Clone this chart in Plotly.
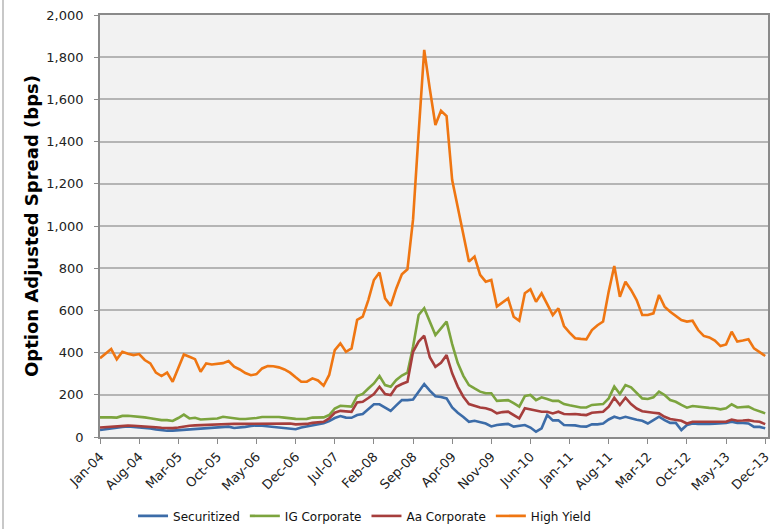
import pandas as pd
import plotly.graph_objects as go

months = pd.date_range("2004-01-01", "2013-12-01", freq="MS").strftime("%b-%y").tolist()
tick_labels = ["Jan-04", "Aug-04", "Mar-05", "Oct-05", "May-06", "Dec-06", "Jul-07", "Feb-08",
               "Sep-08", "Apr-09", "Nov-09", "Jun-10", "Jan-11", "Aug-11", "Mar-12", "Oct-12",
               "May-13", "Dec-13"]

securitized = [33, 37, 42, 45, 48, 50, 48, 45, 42, 40, 36, 32, 30, 30, 32, 36, 38, 37, 40, 43,
               44, 48, 50, 49, 43, 44, 48, 52, 55, 53, 50, 49, 47, 44, 38, 37, 45, 50, 55, 60,
               65, 75, 90, 99, 92, 91, 104, 109, 132, 155, 155, 141, 124, 150, 175, 175, 178, 215, 251, 220,
               193, 190, 183, 140, 115, 95, 72, 77, 72, 64, 50, 57, 60, 62, 49, 53, 57, 45, 25, 41,
               104, 79, 79, 57, 57, 55, 50, 49, 60, 60, 64, 83, 96, 88, 96, 88, 82, 77, 64, 80,
               96, 80, 67, 67, 33, 57, 64, 62, 61, 62, 63, 64, 66, 72, 67, 66, 64, 48, 48, 41]

ig_corporate = [93, 94, 93, 92, 100, 101, 99, 96, 93, 89, 85, 80, 80, 76, 90, 106, 88, 91, 83, 85,
                87, 88, 96, 92, 87, 85, 85, 86, 90, 95, 96, 96, 95, 92, 88, 86, 85, 86, 92, 93,
                93, 104, 135, 148, 145, 144, 194, 204, 230, 254, 289, 246, 238, 270, 291, 305, 428, 578, 610, 545,
                483, 515, 547, 440, 350, 290, 246, 230, 215, 207, 207, 171, 172, 175, 160, 144, 194, 199, 175, 188,
                180, 171, 171, 156, 150, 144, 140, 140, 152, 154, 156, 183, 239, 204, 246, 235, 207, 183, 180, 188,
                215, 199, 175, 167, 152, 139, 147, 143, 140, 138, 136, 131, 136, 155, 140, 142, 144, 131, 123, 112]

aa_corporate = [45, 47, 50, 52, 54, 54, 53, 52, 50, 48, 46, 44, 43, 42, 45, 50, 53, 55, 56, 57,
                58, 60, 62, 64, 63, 62, 62, 63, 63, 63, 63, 62, 62, 62, 64, 60, 60, 62, 67, 70,
                72, 88, 115, 124, 121, 119, 164, 167, 185, 204, 238, 204, 199, 238, 251, 262, 404, 452, 480, 378,
                333, 352, 388, 302, 239, 191, 156, 148, 140, 136, 128, 112, 118, 120, 104, 88, 136, 131, 125, 120,
                120, 112, 120, 109, 108, 109, 106, 104, 115, 117, 120, 144, 186, 152, 186, 156, 135, 122, 117, 115,
                112, 96, 85, 82, 77, 64, 72, 72, 72, 72, 72, 72, 72, 83, 77, 78, 80, 75, 72, 61]

high_yield = [373, 395, 417, 368, 404, 395, 388, 393, 365, 349, 305, 289, 305, 262, 330, 391, 380, 369, 309, 349,
              344, 346, 350, 360, 333, 320, 303, 293, 298, 325, 336, 335, 330, 320, 305, 283, 262, 262, 278, 268,
              243, 294, 412, 444, 404, 420, 555, 570, 649, 744, 780, 657, 622, 704, 771, 795, 1030, 1440, 1835, 1650,
              1479, 1546, 1521, 1218, 1090, 950, 831, 855, 768, 736, 744, 618, 638, 657, 570, 551, 681, 700, 641, 681,
              630, 578, 610, 526, 495, 468, 465, 463, 507, 530, 547, 689, 810, 665, 736, 697, 649, 578, 578, 586,
              673, 618, 594, 574, 554, 547, 551, 507, 479, 472, 457, 431, 439, 499, 452, 457, 463, 420, 404, 384]

series = [
    ("Securitized", securitized, "#3c6ca8"),
    ("IG Corporate", ig_corporate, "#7ca43e"),
    ("Aa Corporate", aa_corporate, "#a63e3c"),
    ("High Yield", high_yield, "#ef7612"),
]

FONT = "DejaVu Sans, Verdana, sans-serif"

fig = go.Figure()
for name, vals, color in series:
    fig.add_trace(go.Scatter(x=months, y=vals, name=name, mode="lines",
                             line=dict(color=color, width=2.6)))

fig.update_layout(
    width=781, height=529,
    margin=dict(l=100, r=13, t=15, b=92, autoexpand=False),
    paper_bgcolor="white",
    plot_bgcolor="#f2f2f2",
    font=dict(family=FONT, size=13, color="#222222"),
    showlegend=True,
    legend=dict(orientation="h", x=0.396, xanchor="center", y=-0.187, yanchor="middle",
                font=dict(family=FONT, size=12, color="#111111"), bgcolor="rgba(0,0,0,0)",
                traceorder="normal"),
    shapes=[dict(type="line", xref="paper", yref="paper", x0=-0.1452, x1=-0.1452,
                 y0=-0.22, y1=1.04, line=dict(color="#c8c8c8", width=2))],
)

fig.update_xaxes(
    type="category",
    range=[0, 119.5],
    automargin=False,
    tickmode="array", tickvals=tick_labels, ticktext=tick_labels,
    tickangle=-45,
    ticks="outside", ticklen=5, tickcolor="#8a8a8a", tickwidth=1.2,
    showgrid=False,
    showline=True, linecolor="#8a8a8a", linewidth=1.8, mirror=True,
    tickfont=dict(family=FONT, size=13, color="#222222"),
)

fig.update_yaxes(
    range=[0, 2000], dtick=200, tickformat=",d",
    automargin=False,
    ticks="outside", ticklen=4, tickcolor="#8a8a8a", tickwidth=1.2,
    ticklabelstandoff=8,
    showgrid=True, gridcolor="#b5b5b5", gridwidth=1.5,
    zeroline=False,
    showline=True, linecolor="#8a8a8a", linewidth=1.8, mirror=True,
    tickfont=dict(family=FONT, size=13, color="#222222"),
    title=dict(text="<b>Option Adjusted Spread (bps)</b>", font=dict(family=FONT, size=18, color="#000000"),
               standoff=3),
)

fig.write_html("out.html", config={"displayModeBar": False},
               post_script="document.body.style.margin='0';")
